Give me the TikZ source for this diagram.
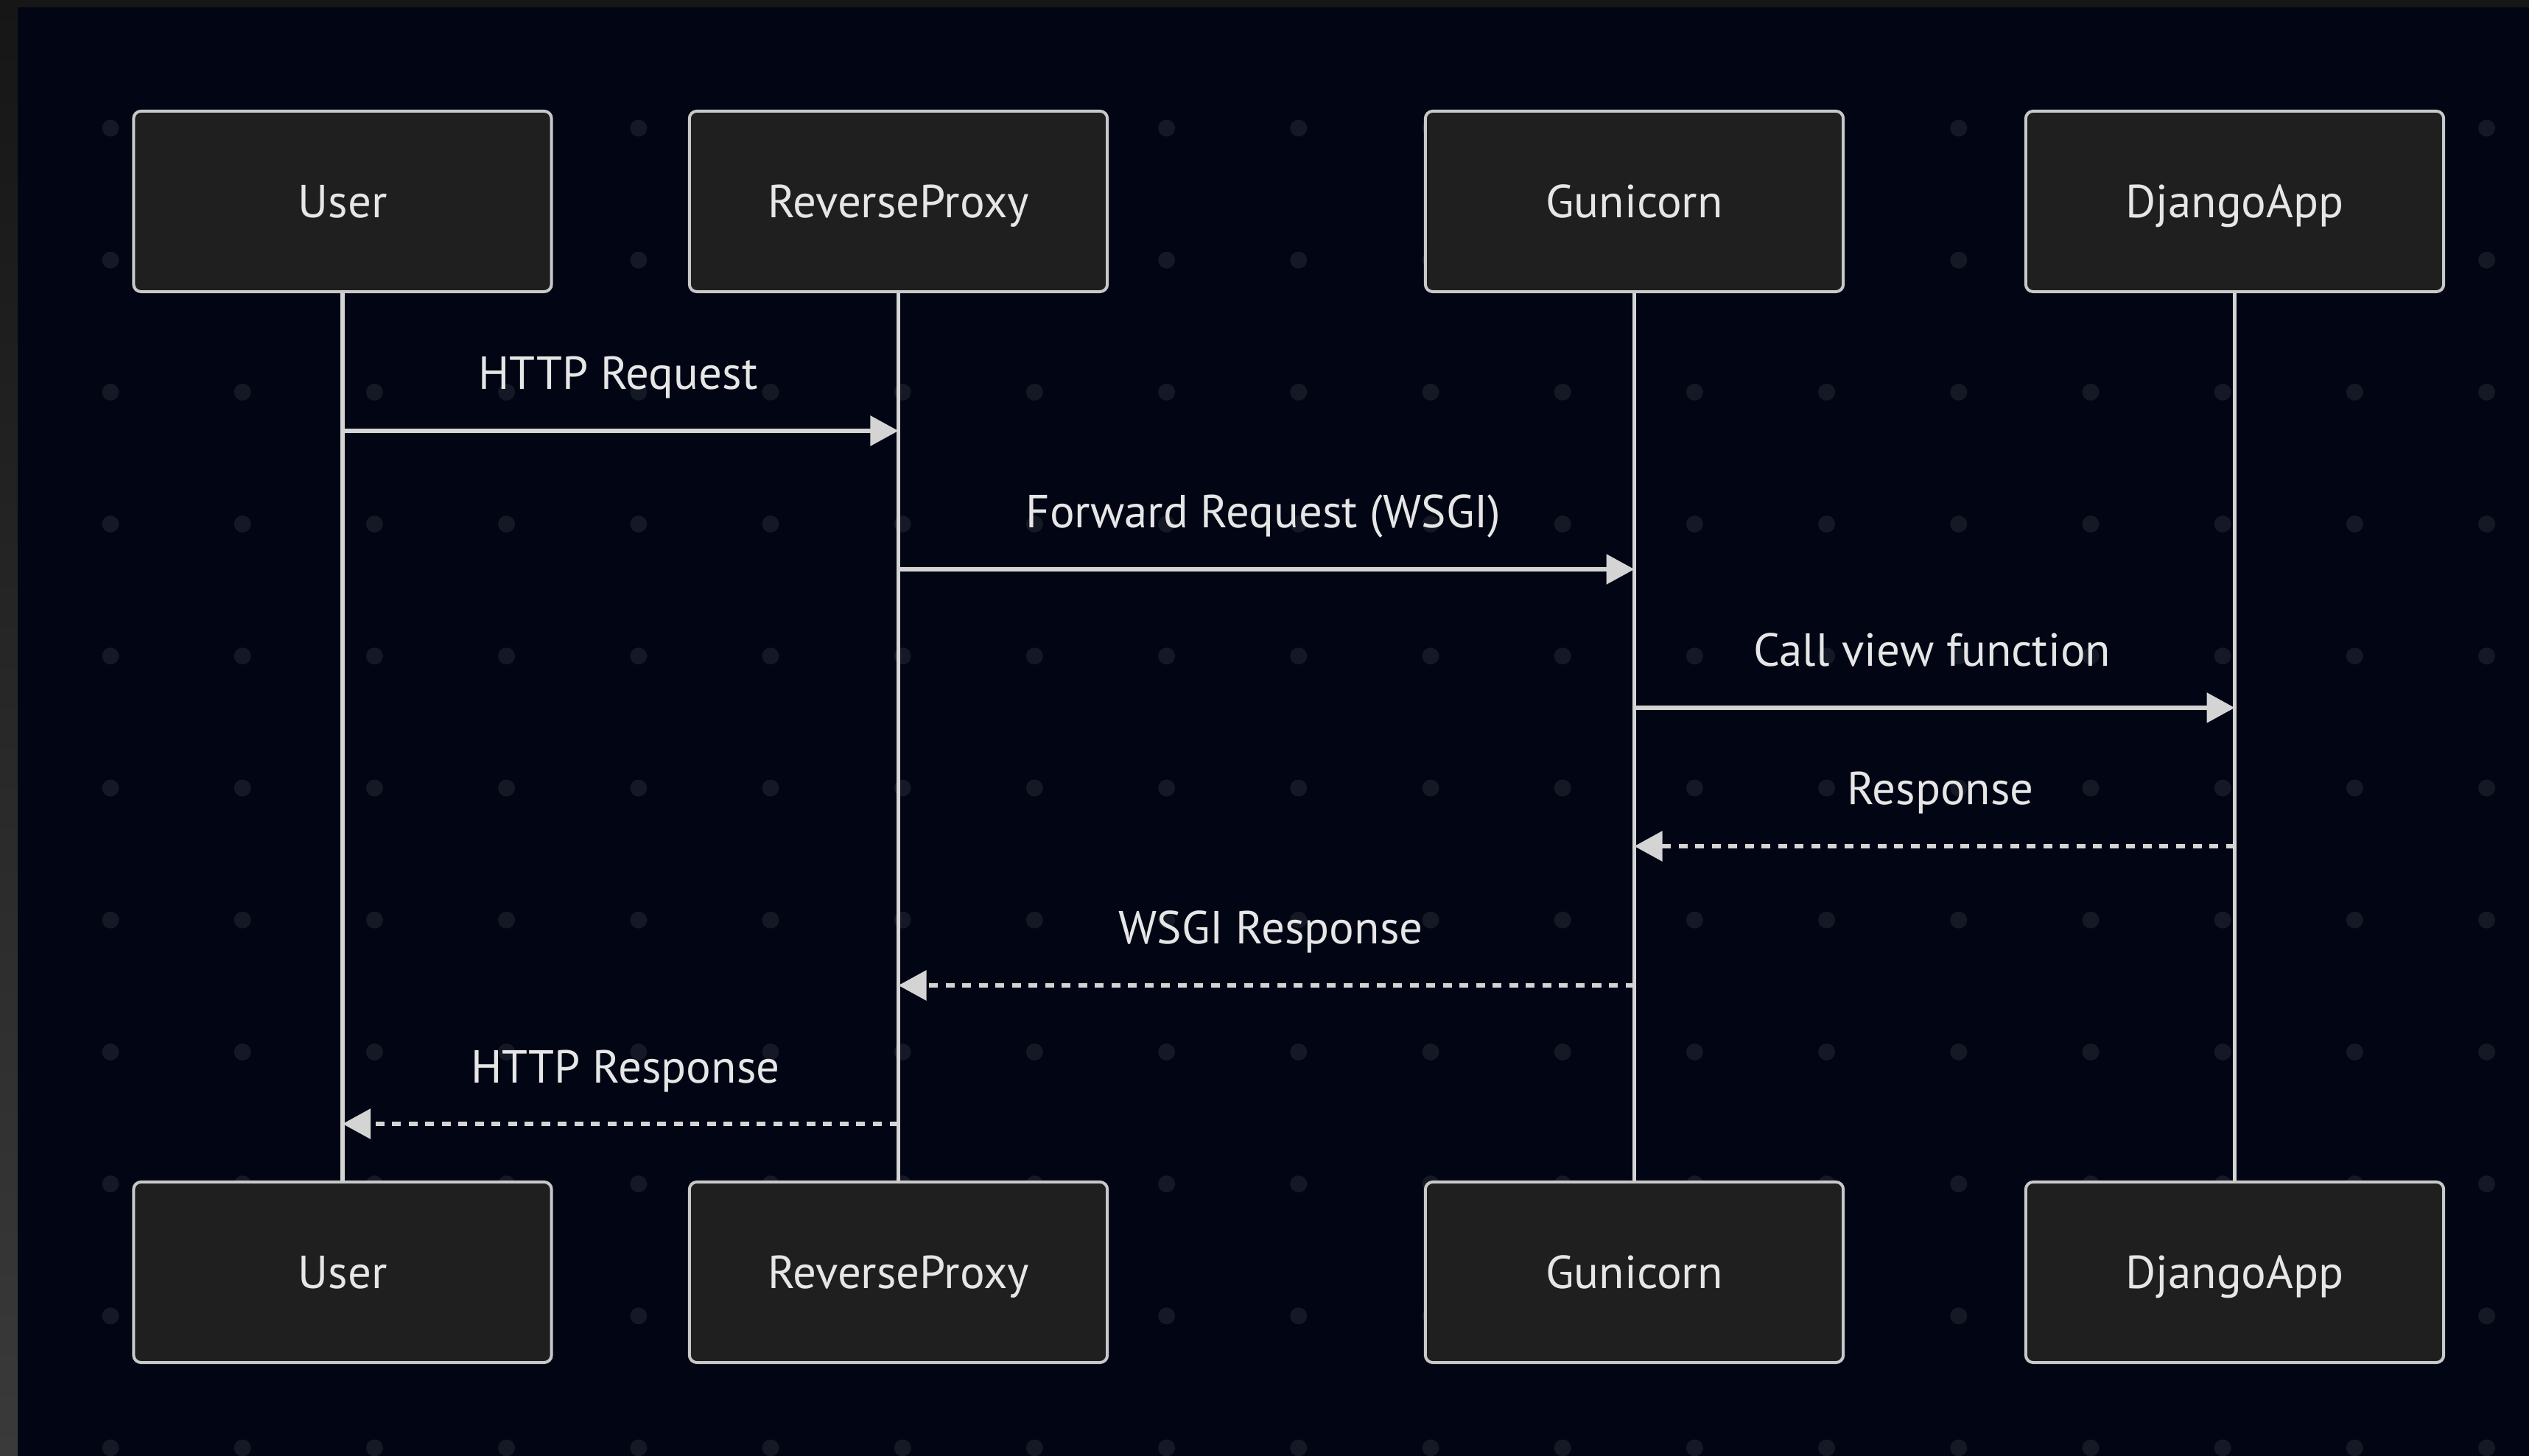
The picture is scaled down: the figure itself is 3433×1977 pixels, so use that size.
\documentclass[tikz,border=0pt]{standalone}
\usepackage{fontspec}
\setmainfont{PT Sans}
\usetikzlibrary{arrows.meta}
\definecolor{bgnavy}{RGB}{1,5,20}
\definecolor{dotc}{RGB}{20,25,37}
\definecolor{boxfill}{RGB}{31,31,31}
\definecolor{boxline}{RGB}{200,200,200}
\definecolor{linec}{RGB}{212,212,212}
\definecolor{txtc}{RGB}{230,230,230}
\definecolor{framedark}{RGB}{22,22,22}
\definecolor{framelight}{RGB}{58,58,58}
\tikzset{
  actor/.style={draw=boxline, fill=boxfill, line width=0.04cm, rounded corners=0.1cm,
    minimum width=5.67cm, minimum height=2.45cm, inner sep=0pt,
    text=txtc, font=\fontsize{17.9pt}{21pt}\selectfont, text height=0.44cm, text depth=0cm},
  life/.style={draw=linec, line width=0.057cm},
  msg/.style={draw=linec, line width=0.057cm, -{Triangle[length=0.38cm,width=0.40cm]}},
  reply/.style={msg, dash pattern=on 0.12cm off 0.105cm},
  lbl/.style={anchor=base, inner sep=0pt, text=txtc, font=\fontsize{17.9pt}{21pt}\selectfont},
}
\begin{document}
\begin{tikzpicture}[x=0.01cm,y=-0.01cm]
\useasboundingbox (0,0) rectangle (3433,1977);
% background
\fill[bgnavy] (0,0) rectangle (3433,1977);
\fill[framedark] (0,0) rectangle (3433,10);
\shade[top color=framedark, bottom color=framelight] (0,0) rectangle (24,1977);
% dot grid
\foreach \i in {0,...,18}{
  \foreach \j in {0,...,10}{
    \fill[dotc] ({150+179.2*\i},{174+179.2*\j}) circle[radius=0.115cm];
  }
}
% actors
\node[actor] (uT) at (465,273.5) {User};
\node[actor] (rT) at (1219.5,273.5) {ReverseProxy};
\node[actor] (gT) at (2218.5,273.5) {Gunicorn};
\node[actor] (dT) at (3033.5,273.5) {DjangoApp};
\node[actor] (uB) at (465,1727.5) {User};
\node[actor] (rB) at (1219.5,1727.5) {ReverseProxy};
\node[actor] (gB) at (2218.5,1727.5) {Gunicorn};
\node[actor] (dB) at (3033.5,1727.5) {DjangoApp};
% lifelines
\draw[life] (uT.south) -- (uB.north);
\draw[life] (rT.south) -- (rB.north);
\draw[life] (gT.south) -- (gB.north);
\draw[life] (dT.south) -- (dB.north);
% message rows
\coordinate (r1) at (0,585);
\coordinate (r2) at (0,773);
\coordinate (r3) at (0,961);
\coordinate (r4) at (0,1149);
\coordinate (r5) at (0,1338);
\coordinate (r6) at (0,1526);
% messages
\draw[msg] (uT |- r1) -- (rT |- r1);
\draw[msg] (rT |- r2) -- (gT |- r2);
\draw[msg] (gT |- r3) -- (dT |- r3);
\draw[reply] (dT |- r4) -- (gT |- r4);
\draw[reply] (gT |- r5) -- (rT |- r5);
\draw[reply] (rT |- r6) -- (uT |- r6);
% labels
\node[lbl] (l1) at (839,529) {HTTP Request};
\node[lbl] (l2) at (1715,717) {Forward Request (WSGI)};
\node[lbl] (l3) at (2623,905) {Call view function};
\node[lbl] (l4) at (2634,1093) {Response};
\node[lbl] (l5) at (1725,1282) {WSGI Response};
\node[lbl] (l6) at (849,1470) {HTTP Response};
\end{tikzpicture}
\end{document}
